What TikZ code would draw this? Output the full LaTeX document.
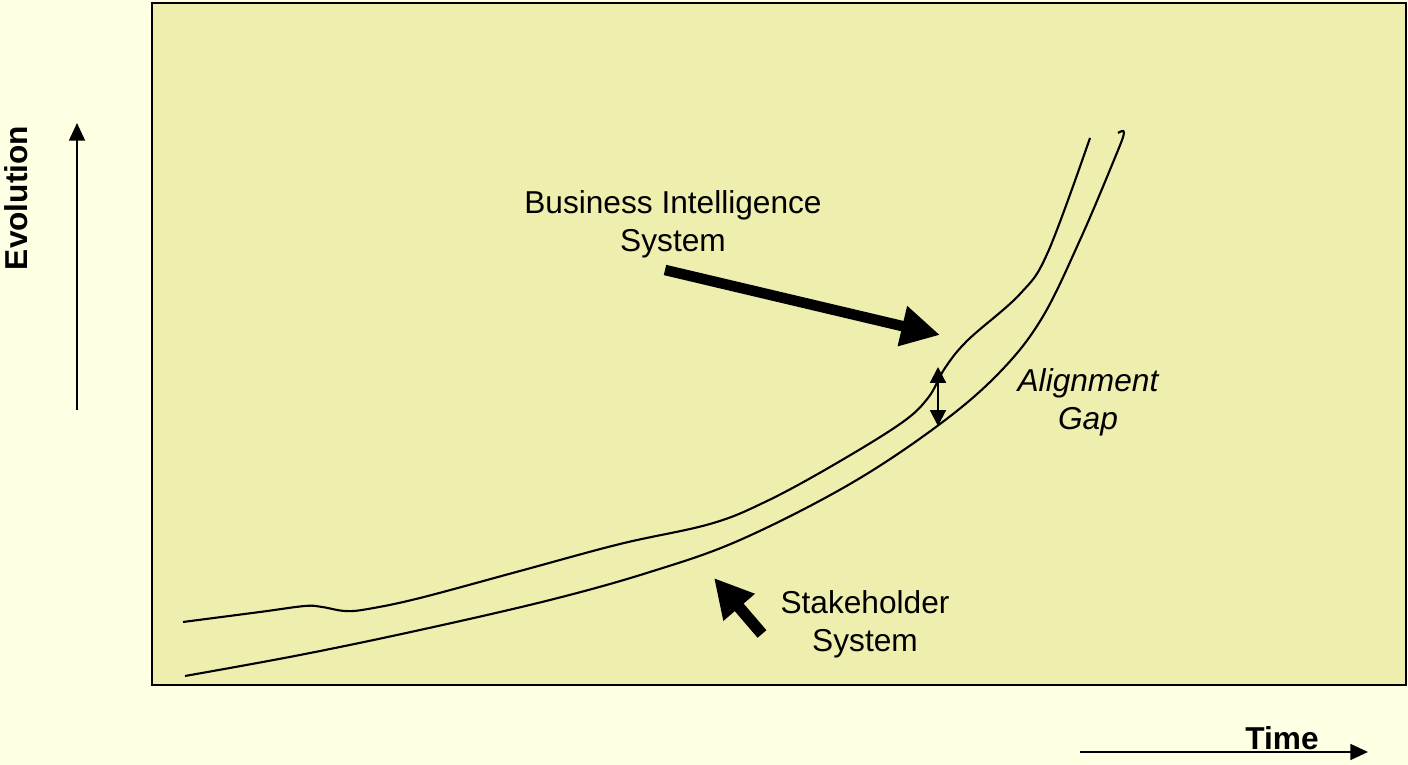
\documentclass[tikz,border=0pt]{standalone}
\usepackage{fontspec}
\setmainfont{Liberation Sans}
\usepackage{tikz}
\usetikzlibrary{arrows.meta}

\definecolor{outerbg}{RGB}{255,255,228}
\definecolor{innerbg}{RGB}{238,238,175}

\tikzset{
  lbl/.style={font=\fontsize{9}{10.8}\selectfont, align=center, inner sep=0pt},
  axislbl/.style={font=\fontsize{9}{10.8}\selectfont\bfseries, inner sep=0pt},
  curve/.style={line width=0.6pt, smooth, tension=0.6},
  fatarrow/.style={line width=3pt, -{Triangle[length=11pt,width=11pt]}},
  gaparrow/.style={line width=0.6pt, {Triangle[length=4.5pt,width=4.5pt]}-{Triangle[length=4.5pt,width=4.5pt]}},
}

\begin{document}
\begin{tikzpicture}[x=0.01cm,y=-0.01cm]
%podlaga
\fill[outerbg] (0,0) rectangle (1408,765);
\useasboundingbox (0,0) rectangle (1408,765);
\draw[fill=innerbg, line width=0.6pt] (152,3) rectangle (1406,685);

%osi
\coordinate (evbot) at (77,410);
\coordinate (evtop) at (77,123);
\draw[line width=0.6pt, -{Triangle[length=5pt,width=4.5pt]}] (evbot) -- (evtop);
\node[axislbl, rotate=90] (evol) at (16,198) {Evolution};
\coordinate (tleft) at (1080,752);
\coordinate (tright) at (1368,752);
\draw[line width=0.6pt, -{Triangle[length=5pt,width=4.5pt]}] (tleft) -- (tright);
\node[axislbl] (time) at (1282,738) {Time};

%krivulji
\draw[curve] plot coordinates {(183,622) (260,612) (305,606) (322,607) (345,611)
  (368,609) (420,598) (520,571)
  (620,544) (710,524) (765,502) (830,467) (900,424) (928,398) (945,368)
  (968,340) (1020,294) (1048,252) (1090,138)};
\draw[curve] plot coordinates {(185,676) (300,655) (420,630) (550,600) (650,572)
  (740,540) (850,484) (940,424) (1000,372) (1042,318) (1080,240) (1114,160)
  (1124,133) (1118,133)};

%oznake
\node[lbl] (bis) at (673,224) {Business Intelligence\\System};
\node[lbl] (shs) at (865,624) {Stakeholder\\System};
\node[lbl, font=\fontsize{9}{10.8}\selectfont\itshape] (gap) at (1088,402) {Alignment\\Gap};

%puscice
\coordinate (bisstart) at (665,270);
\coordinate (bisend) at (940,335);
\draw[fatarrow] (bisstart) -- (bisend);
\coordinate (shsstart) at (762,634);
\coordinate (shsend) at (714,578);
\draw[fatarrow, line width=3.3pt] (shsstart) -- (shsend);
\coordinate (gaptop) at (938,367);
\coordinate (gapbot) at (938,426);
\draw[gaparrow] (gaptop) -- (gapbot);

\end{tikzpicture}
\end{document}
